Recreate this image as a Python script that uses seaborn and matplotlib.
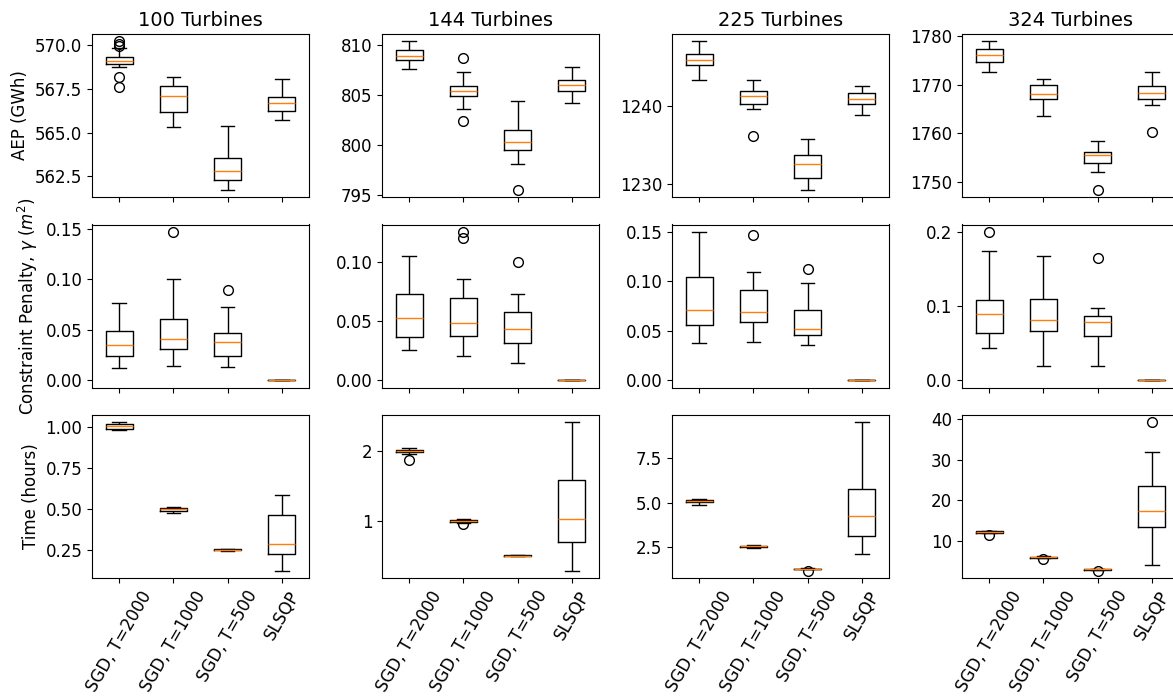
import numpy as np
import pandas as pd
import matplotlib
matplotlib.use("Agg")
import matplotlib.pyplot as plt
import seaborn as sns

# ---------------- data ----------------
methods = ["SGD, T=2000", "SGD, T=1000", "SGD, T=500", "SLSQP"]
turbines = ["100 Turbines", "144 Turbines", "225 Turbines", "324 Turbines"]
row_labels = ["AEP (GWh)", r"Constraint Penalty, $\gamma$ ($m^2$)", "Time (hours)"]

# each entry: (whisker low, Q1, median, Q3, whisker high, [fliers])
aep_100 = [
    (568.74, 568.91, 569.08, 569.28, 569.80, [570.19, 570.05, 569.92, 568.16, 567.59]),
    (565.32, 566.15, 567.07, 567.65, 568.16, []),
    (561.75, 562.29, 562.80, 563.53, 565.38, []),
    (565.70, 566.22, 566.67, 567.05, 568.03, []),
]
aep_144 = [
    (807.57, 808.47, 808.94, 809.50, 810.37, []),
    (803.64, 804.87, 805.44, 805.90, 807.27, [808.67, 802.47]),
    (798.17, 799.54, 800.30, 801.54, 804.37, [795.57]),
    (804.24, 805.44, 805.97, 806.50, 807.84, []),
]
aep_225 = [
    (1243.37, 1245.28, 1245.88, 1246.64, 1248.26, []),
    (1239.62, 1240.30, 1241.28, 1241.88, 1243.37, [1236.17]),
    (1229.32, 1230.77, 1232.60, 1233.79, 1235.84, []),
    (1238.81, 1240.30, 1240.86, 1241.62, 1242.52, []),
]
aep_324 = [
    (1772.57, 1774.57, 1776.15, 1777.25, 1778.91, []),
    (1763.49, 1767.00, 1768.17, 1769.89, 1771.12, []),
    (1751.93, 1753.87, 1755.52, 1756.20, 1758.33, [1748.36]),
    (1765.84, 1767.08, 1768.24, 1769.68, 1772.51, [1760.27]),
]

pen_100 = [
    (0.0122, 0.0234, 0.0346, 0.0489, 0.0762, []),
    (0.0136, 0.0307, 0.0403, 0.0610, 0.1006, [0.1468]),
    (0.0129, 0.0241, 0.0380, 0.0469, 0.0722, [0.0890]),
    (0.0, 0.0, 0.0, 0.0, 0.0, []),
]
pen_144 = [
    (0.0259, 0.0362, 0.0524, 0.0727, 0.1048, []),
    (0.0206, 0.0376, 0.0485, 0.0697, 0.0858, [0.1255, 0.1205]),
    (0.0145, 0.0318, 0.0432, 0.0580, 0.0733, [0.1000]),
    (0.0, 0.0, 0.0, 0.0, 0.0, []),
]
pen_225 = [
    (0.0378, 0.0560, 0.0714, 0.1044, 0.1499, []),
    (0.0384, 0.0586, 0.0684, 0.0909, 0.1095, [0.1465]),
    (0.0354, 0.0459, 0.0515, 0.0711, 0.0984, [0.1128]),
    (0.0, 0.0, 0.0, 0.0, 0.0, []),
]
pen_324 = [
    (0.0436, 0.0637, 0.0888, 0.1085, 0.1740, [0.1996]),
    (0.0194, 0.0664, 0.0807, 0.1090, 0.1673, []),
    (0.0194, 0.0588, 0.0785, 0.0870, 0.0974, [0.1641]),
    (0.0, 0.0, 0.0, 0.0, 0.0, []),
]

time_100 = [
    (0.977, 0.988, 1.002, 1.016, 1.026, []),
    (0.474, 0.488, 0.497, 0.505, 0.511, []),
    (0.242, 0.245, 0.249, 0.253, 0.256, []),
    (0.122, 0.224, 0.285, 0.462, 0.586, []),
]
time_144 = [
    (1.957, 1.981, 2.000, 2.020, 2.039, [1.870]),
    (0.975, 0.990, 1.000, 1.010, 1.030, [0.950]),
    (0.490, 0.495, 0.500, 0.505, 0.510, []),
    (0.288, 0.704, 1.024, 1.580, 2.410, []),
]
time_225 = [
    (4.89, 5.02, 5.07, 5.13, 5.20, []),
    (2.47, 2.53, 2.56, 2.58, 2.62, []),
    (1.27, 1.285, 1.295, 1.305, 1.33, [1.20]),
    (2.12, 3.16, 4.25, 5.74, 9.48, []),
]
time_324 = [
    (11.90, 12.10, 12.27, 12.40, 12.60, [11.46]),
    (5.95, 6.00, 6.10, 6.20, 6.30, [5.60]),
    (3.02, 3.05, 3.10, 3.15, 3.20, [2.80]),
    (4.22, 13.50, 17.32, 23.60, 31.80, [39.10]),
]

panels = [
    [aep_100, aep_144, aep_225, aep_324],
    [pen_100, pen_144, pen_225, pen_324],
    [time_100, time_144, time_225, time_324],
]


def samples_from_stats(st, k=4):
    """Build a small sample whose box-plot statistics equal the given ones."""
    lo, q1, med, q3, hi, fl = st
    low = sorted(f for f in fl if f < q1)
    high = sorted(f for f in fl if f > q3)
    vals = (low + [lo] + [q1] * (k - len(low) - 1)
            + [q1] + [med] * (k - 1)
            + [med] + [q3] * (k - 1)
            + [q3] + [q3] * (k - len(high) - 1) + [hi] + high)
    return vals


plt.rcParams.update({
    "font.family": "DejaVu Sans",
    "xtick.labelsize": 12,
    "ytick.labelsize": 12,
    "axes.labelsize": 12,
    "axes.titlesize": 14,
})

W, H = 1173, 696
fig, axes = plt.subplots(3, 4, figsize=(W / 100, H / 100), dpi=100)
fig.subplots_adjust(left=92 / W, right=1179 / W, wspace=73 / 217,
                    top=1 - 34 / H, bottom=1 - 578 / H, hspace=27.5 / 163)

for r in range(3):
    for c in range(4):
        ax = axes[r, c]
        rows = []
        for m, st in zip(methods, panels[r][c]):
            for v in samples_from_stats(st):
                rows.append({"method": m, "value": v})
        df = pd.DataFrame(rows)
        sns.boxplot(data=df, x="method", y="value", order=methods, ax=ax,
                    fill=False, color="black", linecolor="black", width=0.5,
                    linewidth=1.0,
                    medianprops={"color": "#ff7f0e", "linewidth": 1.0},
                    flierprops={"marker": "o", "markersize": 7,
                                "markerfacecolor": "none",
                                "markeredgecolor": "black",
                                "markeredgewidth": 1.0})
        ax.set_xlabel("")
        ax.set_ylabel(row_labels[r] if c == 0 else "")
        ax.set_xticks(range(len(methods)))
        if r == 2:
            ax.set_xticklabels(methods, rotation=60, ha="center")
        else:
            ax.set_xticklabels([])
        if r == 0:
            ax.set_title(turbines[c])
        for sp in ax.spines.values():
            sp.set_visible(True)
            sp.set_color("black")

fig.savefig("out.png", dpi=100)
